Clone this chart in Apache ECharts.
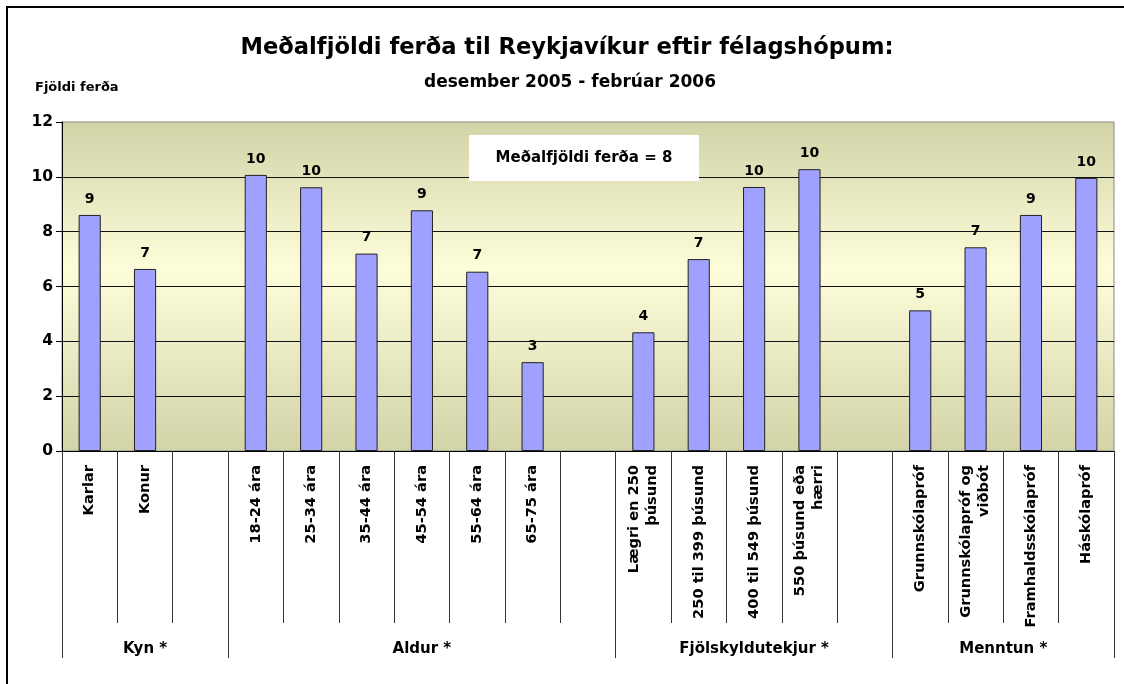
<!DOCTYPE html>
<html>
<head>
<meta charset="utf-8">
<title>Meðalfjöldi ferða</title>
<script src="https://cdn.jsdelivr.net/npm/echarts@6/dist/echarts.min.js"></script>
<style>
  html, body { margin: 0; padding: 0; background: #fff; }
  #chart { width: 1124px; height: 684px; }
</style>
</head>
<body>
<div id="chart"></div>
<script>
// flokkar á x-ás, tómur strengur = bil milli hópa
const categories = [
  "Karlar", "Konur", "",
  "18-24 ára", "25-34 ára", "35-44 ára", "45-54 ára", "55-64 ára", "65-75 ára", "",
  "Lægri en 250\nþúsund", "250 til 399 þúsund", "400 til 549 þúsund", "550 þúsund eða\nhærri", "",
  "Grunnskólapróf", "Grunnskólapróf og\nviðbót", "Framhaldsskólapróf", "Háskólapróf"
];
// meðalfjöldi ferða (lesið af myndinni)
const trips = [
  8.61, 6.64, null,
  10.07, 9.62, 7.2, 8.78, 6.54, 3.24, null,
  4.33, 7.0, 9.63, 10.28, null,
  5.13, 7.43, 8.61, 9.96
];
// hópar og fjöldi flokka í hverjum
const groupNames = ["Kyn *", "Aldur *", "Fjölskyldutekjur *", "Menntun *"];
const groupSizes = [3, 7, 5, 4];
const yTicks = [0, 12, 2]; // min, max, bil
const avgTrips = 8;

const FONT = "DejaVu Sans";

// mörk og miðjur hópa
const groupBounds = [0];
const groupCenters = [];
groupSizes.forEach((n, i) => {
  groupCenters.push(groupBounds[i] + n / 2);
  groupBounds.push(groupBounds[i] + n);
});

const myChart = echarts.init(document.getElementById("chart"));

const gridBox = { left: 62, right: 10, top: 122, height: 329 };

myChart.setOption({
  animation: false,
  title: [
    {
      text: "Meðalfjöldi ferða til Reykjavíkur eftir félagshópum:",
      left: 567, top: 37, padding: 0, textAlign: "center",
      textStyle: { fontFamily: FONT, fontSize: 22.6, fontWeight: "bold", color: "#000" }
    },
    {
      text: "desember 2005 - febrúar 2006",
      left: 570, top: 74, padding: 0, textAlign: "center",
      textStyle: { fontFamily: FONT, fontSize: 17, fontWeight: "bold", color: "#000" }
    },
    {
      text: "Fjöldi ferða",
      left: 35, top: 81, padding: 0,
      textStyle: { fontFamily: FONT, fontSize: 13, fontWeight: "bold", color: "#000" }
    }
  ],
  grid: [
    Object.assign({
      show: true,
      borderColor: "#888",
      borderWidth: 1,
      backgroundColor: {
        type: "linear", x: 0, y: 0, x2: 0, y2: 1,
        colorStops: [
          { offset: 0, color: "#D3D3A8" },
          { offset: 0.45, color: "#FDFDDA" },
          { offset: 1, color: "#D3D3A8" }
        ]
      }
    }, gridBox),
    // annað grid fyrir hópaásinn
    Object.assign({ show: false }, gridBox)
  ],
  xAxis: [
    {
      type: "category",
      gridIndex: 0,
      data: categories,
      axisLine: { lineStyle: { color: "#000", width: 1 } },
      axisTick: { show: true, interval: 0, length: 172, lineStyle: { color: "#333" } },
      axisLabel: {
        interval: 0, rotate: 90, margin: 14,
        fontFamily: FONT, fontSize: 14.6, fontWeight: "bold", color: "#000", lineHeight: 18
      }
    },
    {
      type: "value",
      gridIndex: 1,
      min: groupBounds[0],
      max: groupBounds[groupBounds.length - 1],
      axisLine: { show: false },
      splitLine: { show: false },
      axisTick: { show: true, customValues: groupBounds, length: 207, lineStyle: { color: "#333" } },
      axisLabel: {
        customValues: groupCenters,
        margin: 191,
        fontFamily: FONT, fontSize: 15, fontWeight: "bold", color: "#000",
        formatter: (v) => groupNames[groupCenters.indexOf(v)]
      }
    }
  ],
  yAxis: [
    {
      type: "value",
      gridIndex: 0,
      min: yTicks[0], max: yTicks[1], interval: yTicks[2],
      axisLine: { show: true, lineStyle: { color: "#000" } },
      axisTick: { show: true, length: 6, lineStyle: { color: "#000" } },
      axisLabel: { margin: 9, fontFamily: FONT, fontSize: 15.5, fontWeight: "bold", color: "#000" },
      splitLine: { show: true, showMaxLine: false, lineStyle: { color: "#111", width: 1 } }
    },
    { type: "value", gridIndex: 1, min: yTicks[0], max: yTicks[1], show: false }
  ],
  series: [
    {
      type: "bar",
      xAxisIndex: 0,
      yAxisIndex: 0,
      data: trips,
      barWidth: "40%",
      itemStyle: { color: "#A0A0FF", borderColor: "#222", borderWidth: 1 },
      label: {
        show: true,
        position: "top",
        distance: 9,
        fontFamily: FONT, fontSize: 14, fontWeight: "bold", color: "#000",
        formatter: (p) => Math.round(p.value)
      }
    }
  ],
  graphic: [
    {
      type: "rect", z: 100,
      shape: { x: 469, y: 135, width: 230, height: 46 },
      style: { fill: "#fff" }
    },
    {
      type: "text", z: 101, x: 584, y: 158,
      style: {
        text: "Meðalfjöldi ferða = " + avgTrips,
        font: 'bold 15px "DejaVu Sans"', fill: "#000",
        align: "center", verticalAlign: "middle"
      }
    },
    // rammi utan um myndina
    {
      type: "rect", z: 100,
      shape: { x: 7, y: 7, width: 1300, height: 900 },
      style: { fill: null, stroke: "#000", lineWidth: 2 }
    }
  ]
});

window.addEventListener("resize", function () {
  myChart.resize();
});
</script>
</body>
</html>
